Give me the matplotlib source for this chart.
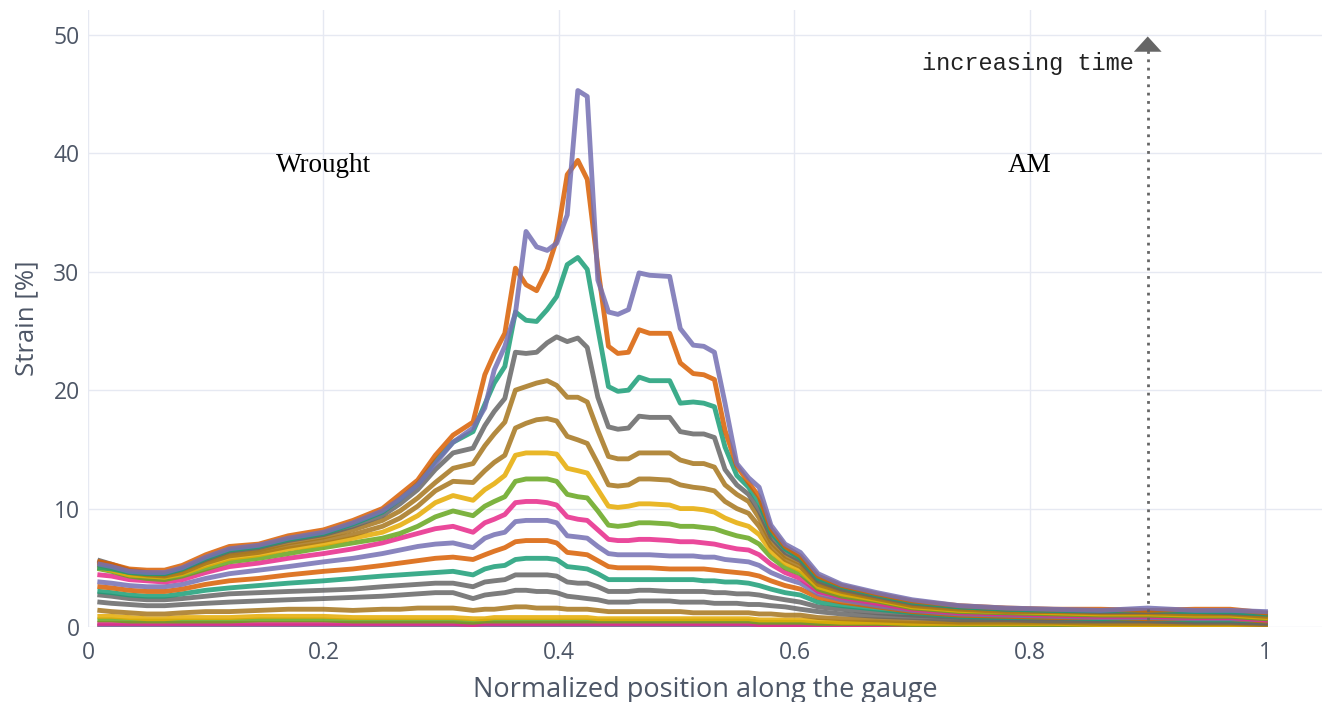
import matplotlib
matplotlib.use("Agg")
import matplotlib.pyplot as plt

# positions along the gauge (shared by all curves)
x_pos = [0.010, 0.020, 0.035, 0.050, 0.065, 0.080, 0.100, 0.120, 0.145, 0.170,
         0.200, 0.225, 0.250, 0.265, 0.280, 0.295, 0.310, 0.327, 0.337, 0.345,
         0.354, 0.363, 0.372, 0.381, 0.390, 0.398, 0.407, 0.416, 0.424, 0.433,
         0.442, 0.450, 0.459, 0.468, 0.477, 0.494, 0.503, 0.514, 0.523, 0.532,
         0.541, 0.551, 0.561, 0.570, 0.580, 0.592, 0.605, 0.620, 0.640, 0.670,
         0.700, 0.740, 0.780, 0.820, 0.860, 0.900, 0.940, 0.970, 1.000]

# strain curves, earliest (bottom) to latest (top)
s00 = [0.05, 0.05, 0.04, 0.04, 0.04, 0.05, 0.05, 0.05, 0.05, 0.05,
       0.05, 0.05, 0.05, 0.05, 0.05, 0.05, 0.05, 0.04, 0.05, 0.05,
       0.05, 0.05, 0.05, 0.05, 0.05, 0.05, 0.05, 0.05, 0.05, 0.05,
       0.05, 0.05, 0.05, 0.05, 0.05, 0.05, 0.05, 0.05, 0.05, 0.05,
       0.05, 0.05, 0.05, 0.05, 0.04, 0.04, 0.04, 0.04, 0.03, 0.03,
       0.03, 0.03, 0.03, 0.03, 0.03, 0.03, 0.03, 0.03, 0.02]
s01 = [0.12, 0.12, 0.11, 0.10, 0.10, 0.11, 0.11, 0.11, 0.12, 0.12,
       0.12, 0.11, 0.11, 0.11, 0.11, 0.11, 0.11, 0.10, 0.11, 0.11,
       0.11, 0.12, 0.12, 0.12, 0.12, 0.12, 0.11, 0.11, 0.11, 0.11,
       0.10, 0.10, 0.10, 0.10, 0.10, 0.10, 0.10, 0.10, 0.10, 0.10,
       0.10, 0.10, 0.10, 0.09, 0.09, 0.09, 0.08, 0.07, 0.06, 0.06,
       0.05, 0.05, 0.05, 0.05, 0.05, 0.05, 0.05, 0.05, 0.04]
s02 = [0.3, 0.3, 0.3, 0.3, 0.3, 0.3, 0.3, 0.3, 0.3, 0.3,
       0.3, 0.3, 0.3, 0.3, 0.3, 0.3, 0.3, 0.2, 0.3, 0.3,
       0.3, 0.3, 0.3, 0.3, 0.3, 0.3, 0.3, 0.3, 0.3, 0.3,
       0.3, 0.3, 0.3, 0.3, 0.3, 0.3, 0.3, 0.3, 0.3, 0.3,
       0.3, 0.3, 0.3, 0.2, 0.2, 0.2, 0.2, 0.2, 0.2, 0.2,
       0.1, 0.1, 0.1, 0.1, 0.1, 0.1, 0.1, 0.1, 0.1]
s03 = [0.6, 0.6, 0.5, 0.5, 0.5, 0.5, 0.5, 0.5, 0.6, 0.6,
       0.6, 0.5, 0.5, 0.5, 0.5, 0.5, 0.5, 0.4, 0.5, 0.5,
       0.5, 0.5, 0.5, 0.5, 0.5, 0.5, 0.5, 0.5, 0.5, 0.5,
       0.5, 0.5, 0.5, 0.5, 0.5, 0.5, 0.5, 0.5, 0.5, 0.5,
       0.5, 0.5, 0.5, 0.4, 0.4, 0.4, 0.4, 0.3, 0.3, 0.3,
       0.2, 0.2, 0.2, 0.2, 0.2, 0.2, 0.2, 0.2, 0.1]
s04 = [0.9, 0.9, 0.8, 0.7, 0.7, 0.8, 0.8, 0.8, 0.9, 0.9,
       0.9, 0.8, 0.8, 0.8, 0.8, 0.8, 0.8, 0.7, 0.7, 0.8,
       0.8, 0.8, 0.8, 0.8, 0.8, 0.8, 0.8, 0.8, 0.8, 0.7,
       0.7, 0.7, 0.7, 0.7, 0.7, 0.7, 0.7, 0.7, 0.7, 0.7,
       0.7, 0.7, 0.7, 0.6, 0.6, 0.6, 0.6, 0.5, 0.4, 0.4,
       0.3, 0.3, 0.3, 0.3, 0.2, 0.2, 0.2, 0.2, 0.2]
s05 = [1.4, 1.3, 1.2, 1.1, 1.1, 1.2, 1.3, 1.3, 1.4, 1.5,
       1.5, 1.4, 1.5, 1.5, 1.6, 1.6, 1.6, 1.4, 1.5, 1.5,
       1.6, 1.7, 1.7, 1.6, 1.6, 1.6, 1.5, 1.5, 1.5, 1.4,
       1.3, 1.3, 1.3, 1.3, 1.3, 1.3, 1.3, 1.2, 1.2, 1.2,
       1.2, 1.2, 1.2, 1.1, 1.1, 1.0, 1.0, 0.8, 0.7, 0.6,
       0.5, 0.4, 0.4, 0.4, 0.3, 0.3, 0.3, 0.3, 0.2]
s06 = [2.1, 2.0, 1.9, 1.8, 1.8, 1.9, 2.0, 2.1, 2.2, 2.3,
       2.4, 2.5, 2.6, 2.7, 2.8, 2.9, 2.9, 2.4, 2.7, 2.8,
       2.9, 3.1, 3.1, 3.0, 3.0, 2.9, 2.6, 2.5, 2.4, 2.3,
       2.1, 2.1, 2.1, 2.2, 2.2, 2.2, 2.1, 2.1, 2.1, 2.0,
       2.0, 2.0, 1.9, 1.9, 1.8, 1.7, 1.5, 1.3, 1.1, 0.9,
       0.8, 0.6, 0.6, 0.5, 0.5, 0.5, 0.4, 0.4, 0.3]
s07 = [2.7, 2.6, 2.4, 2.3, 2.3, 2.4, 2.6, 2.8, 2.9, 3.0,
       3.1, 3.2, 3.4, 3.5, 3.6, 3.7, 3.7, 3.4, 3.8, 3.9,
       4.0, 4.4, 4.4, 4.4, 4.4, 4.3, 3.8, 3.7, 3.7, 3.4,
       3.0, 3.0, 3.0, 3.1, 3.1, 3.0, 3.0, 3.0, 3.0, 2.9,
       2.9, 2.8, 2.8, 2.7, 2.5, 2.3, 2.1, 1.7, 1.5, 1.2,
       1.0, 0.8, 0.7, 0.7, 0.6, 0.6, 0.5, 0.5, 0.4]
s08 = [3.0, 2.9, 2.7, 2.6, 2.6, 2.8, 3.1, 3.3, 3.5, 3.7,
       3.9, 4.1, 4.3, 4.4, 4.5, 4.6, 4.7, 4.4, 4.9, 5.1,
       5.2, 5.7, 5.8, 5.8, 5.8, 5.7, 5.1, 5.0, 4.9, 4.5,
       4.0, 4.0, 4.0, 4.0, 4.0, 4.0, 4.0, 4.0, 3.9, 3.9,
       3.8, 3.8, 3.7, 3.5, 3.2, 2.9, 2.7, 2.1, 1.8, 1.5,
       1.2, 0.9, 0.8, 0.8, 0.7, 0.7, 0.6, 0.6, 0.5]
s09 = [3.4, 3.3, 3.1, 3.0, 3.0, 3.2, 3.6, 3.9, 4.1, 4.4,
       4.7, 4.9, 5.2, 5.4, 5.6, 5.8, 5.9, 5.7, 6.1, 6.4,
       6.7, 7.2, 7.3, 7.3, 7.3, 7.1, 6.3, 6.2, 6.1, 5.6,
       5.1, 5.0, 5.0, 5.0, 5.0, 4.9, 4.9, 4.9, 4.9, 4.8,
       4.7, 4.6, 4.5, 4.3, 3.9, 3.5, 3.2, 2.5, 2.1, 1.7,
       1.3, 1.0, 0.9, 0.8, 0.8, 0.7, 0.7, 0.7, 0.5]
s10 = [3.8, 3.7, 3.5, 3.4, 3.4, 3.6, 4.1, 4.5, 4.8, 5.1,
       5.5, 5.8, 6.2, 6.5, 6.8, 7.0, 7.1, 6.7, 7.5, 7.8,
       8.0, 8.9, 9.0, 9.0, 9.0, 8.8, 7.7, 7.6, 7.5, 6.8,
       6.2, 6.1, 6.1, 6.1, 6.1, 6.0, 6.0, 6.0, 5.9, 5.9,
       5.7, 5.6, 5.5, 5.2, 4.6, 4.1, 3.7, 2.8, 2.3, 1.8,
       1.4, 1.1, 1.0, 0.9, 0.8, 0.8, 0.7, 0.7, 0.6]
s11 = [4.4, 4.3, 4.0, 3.9, 3.8, 4.0, 4.6, 5.1, 5.4, 5.8,
       6.2, 6.6, 7.1, 7.5, 7.9, 8.3, 8.5, 8.0, 8.8, 9.1,
       9.5, 10.5, 10.6, 10.6, 10.5, 10.3, 9.3, 9.1, 9.0, 8.2,
       7.4, 7.3, 7.3, 7.4, 7.4, 7.3, 7.2, 7.2, 7.1, 7.0,
       6.8, 6.6, 6.5, 6.1, 5.3, 4.6, 4.1, 3.0, 2.5, 2.0,
       1.5, 1.2, 1.1, 1.0, 0.9, 0.9, 0.8, 0.8, 0.6]
s12 = [4.9, 4.7, 4.3, 4.1, 4.0, 4.3, 4.9, 5.5, 5.8, 6.2,
       6.7, 7.1, 7.5, 7.9, 8.5, 9.3, 9.8, 9.4, 10.2, 10.6,
       11.0, 12.3, 12.5, 12.5, 12.5, 12.3, 11.2, 11.0, 10.9, 9.8,
       8.6, 8.5, 8.6, 8.8, 8.8, 8.7, 8.5, 8.5, 8.4, 8.3,
       8.0, 7.7, 7.5, 7.0, 5.9, 5.0, 4.5, 3.2, 2.6, 2.2,
       1.6, 1.3, 1.2, 1.1, 1.0, 1.0, 0.9, 0.9, 0.7]
s13 = [5.0, 4.8, 4.4, 4.3, 4.2, 4.5, 5.2, 5.8, 6.1, 6.6,
       7.0, 7.5, 8.0, 8.6, 9.4, 10.5, 11.1, 10.7, 11.6, 12.1,
       12.8, 14.5, 14.7, 14.7, 14.7, 14.6, 13.4, 13.2, 13.0, 11.6,
       10.2, 10.1, 10.2, 10.4, 10.4, 10.3, 10.0, 10.0, 9.9, 9.7,
       9.2, 8.8, 8.5, 7.8, 6.4, 5.4, 4.8, 3.4, 2.8, 2.3,
       1.7, 1.4, 1.3, 1.2, 1.1, 1.1, 1.0, 1.0, 0.8]
s14 = [5.2, 5.0, 4.6, 4.4, 4.3, 4.6, 5.4, 6.0, 6.3, 6.8,
       7.3, 7.8, 8.5, 9.2, 10.2, 11.5, 12.3, 12.2, 13.2, 13.9,
       14.5, 16.8, 17.2, 17.5, 17.6, 17.4, 16.1, 15.8, 15.5, 13.8,
       12.0, 11.9, 12.0, 12.5, 12.5, 12.4, 12.0, 11.8, 11.7, 11.5,
       10.6, 10.0, 9.6, 8.5, 6.8, 5.7, 5.1, 3.6, 3.0, 2.4,
       1.8, 1.5, 1.3, 1.3, 1.2, 1.2, 1.1, 1.1, 0.9]
s15 = [5.4, 5.2, 4.7, 4.5, 4.4, 4.8, 5.6, 6.2, 6.5, 7.1,
       7.6, 8.2, 9.0, 9.8, 10.9, 12.2, 13.4, 13.8, 15.3, 16.3,
       17.3, 20.0, 20.3, 20.6, 20.8, 20.4, 19.4, 19.4, 19.0, 16.6,
       14.4, 14.2, 14.2, 14.7, 14.7, 14.7, 14.1, 13.8, 13.8, 13.5,
       12.0, 11.2, 10.6, 9.2, 7.2, 6.0, 5.4, 3.8, 3.1, 2.5,
       1.9, 1.6, 1.4, 1.3, 1.3, 1.3, 1.2, 1.2, 1.0]
s16 = [5.6, 5.3, 4.8, 4.6, 4.5, 4.9, 5.7, 6.4, 6.7, 7.3,
       7.8, 8.5, 9.4, 10.4, 11.6, 13.3, 14.7, 15.1, 17.0, 18.2,
       19.3, 23.2, 23.1, 23.2, 24.0, 24.5, 24.1, 24.4, 23.6, 19.4,
       16.9, 16.7, 16.8, 17.8, 17.7, 17.7, 16.5, 16.3, 16.3, 16.0,
       13.3, 12.0, 11.2, 9.8, 7.6, 6.3, 5.6, 3.9, 3.2, 2.6,
       2.0, 1.7, 1.5, 1.4, 1.3, 1.3, 1.3, 1.2, 1.1]
s17 = [5.0, 4.9, 4.6, 4.5, 4.5, 4.9, 5.8, 6.5, 6.8, 7.4,
       7.9, 8.7, 9.7, 10.8, 12.1, 14.0, 15.6, 16.5, 18.8, 20.6,
       22.0, 26.6, 25.9, 25.8, 26.8, 27.9, 30.6, 31.2, 30.2, 25.2,
       20.3, 19.9, 20.0, 21.1, 20.8, 20.8, 18.9, 19.0, 18.9, 18.6,
       15.2, 12.8, 11.8, 10.5, 8.0, 6.6, 5.8, 4.1, 3.4, 2.7,
       2.1, 1.7, 1.5, 1.4, 1.4, 1.4, 1.3, 1.3, 1.1]
s18 = [5.5, 5.3, 4.9, 4.8, 4.8, 5.2, 6.1, 6.8, 7.0, 7.7,
       8.2, 9.0, 10.0, 11.2, 12.4, 14.5, 16.2, 17.3, 21.3, 23.1,
       24.8, 30.3, 28.9, 28.4, 30.2, 32.7, 38.2, 39.4, 37.8, 30.4,
       23.7, 23.1, 23.2, 25.1, 24.8, 24.8, 22.3, 21.4, 21.3, 20.9,
       16.6, 13.6, 12.2, 11.0, 8.3, 6.8, 6.0, 4.3, 3.5, 2.8,
       2.2, 1.8, 1.6, 1.5, 1.5, 1.4, 1.5, 1.5, 1.2]
s19 = [5.3, 5.1, 4.7, 4.6, 4.6, 5.0, 5.9, 6.6, 6.9, 7.5,
       8.0, 8.8, 9.8, 10.8, 12.0, 13.8, 15.6, 16.8, 18.5, 21.7,
       23.7, 26.5, 33.4, 32.1, 31.8, 32.4, 34.8, 45.3, 44.8, 29.3,
       26.6, 26.4, 26.8, 29.9, 29.7, 29.6, 25.2, 23.8, 23.7, 23.2,
       18.9, 13.8, 12.6, 11.8, 8.6, 7.0, 6.3, 4.5, 3.6, 2.9,
       2.3, 1.8, 1.6, 1.5, 1.4, 1.6, 1.4, 1.4, 1.3]

curves = [s00, s01, s02, s03, s04, s05, s06, s07, s08, s09,
          s10, s11, s12, s13, s14, s15, s16, s17, s18, s19]

# Dark2 colours, same order as curves
colors = ["#d95f02", "#7570b3", "#e7298a", "#66a61e", "#e6ab02",
          "#a6761d", "#666666", "#666666", "#1b9e77", "#d95f02",
          "#7570b3", "#e7298a", "#66a61e", "#e6ab02", "#a6761d",
          "#a6761d", "#666666", "#1b9e77", "#d95f02", "#7570b3"]

text_col = "#4d5666"
grid_col = "#e6e9f2"

fig = plt.figure(figsize=(13.24, 7.02), dpi=100)
ax = fig.add_axes([88 / 1324, 75 / 702, 1234 / 1324, 617 / 702])

for y, c in zip(curves, colors):
    ax.plot(x_pos, y, color=c, lw=3.5, alpha=0.85, solid_joinstyle="round")

ax.set_xlim(0, 1.048)
ax.set_ylim(0, 52.1)
ax.set_xticks([0, 0.2, 0.4, 0.6, 0.8, 1])
ax.set_xticklabels(["0", "0.2", "0.4", "0.6", "0.8", "1"])
ax.set_yticks([0, 10, 20, 30, 40, 50])
ax.grid(True, color=grid_col, lw=1)
ax.set_axisbelow(True)
for sp in ax.spines.values():
    sp.set_visible(False)
ax.tick_params(length=0, labelsize=16.5, labelcolor=text_col)
ax.tick_params(axis="x", pad=10)
ax.tick_params(axis="y", pad=6)
for lab in ax.get_xticklabels() + ax.get_yticklabels():
    lab.set_fontfamily("Open Sans")

ax.set_xlabel("Normalized position along the gauge", fontsize=19.5,
              color=text_col, family="Open Sans", labelpad=8)
ax.set_ylabel("Strain [%]", fontsize=18.5, color=text_col,
              family="Open Sans", labelpad=10)

ax.text(0.2, 39, "Wrought", fontsize=19.5, family="Liberation Serif",
        ha="center", va="center", color="black")
ax.text(0.8, 39, "AM", fontsize=19.5, family="Liberation Serif",
        ha="center", va="center", color="black")

# increasing time arrow
ax.plot([0.9, 0.9], [0.6, 49.2], color="#666666", lw=2, ls=(0, (1, 2)))
ax.annotate("", xy=(0.9, 50.1), xytext=(0.9, 49.0),
            arrowprops=dict(arrowstyle="-|>,head_length=0.55,head_width=0.5",
                            color="#666666", lw=0, mutation_scale=20))
ax.text(0.888, 47.6, "increasing time", fontsize=17, family="Liberation Mono",
        ha="right", va="center", color="#222222")

fig.savefig("out.png", dpi=100)
